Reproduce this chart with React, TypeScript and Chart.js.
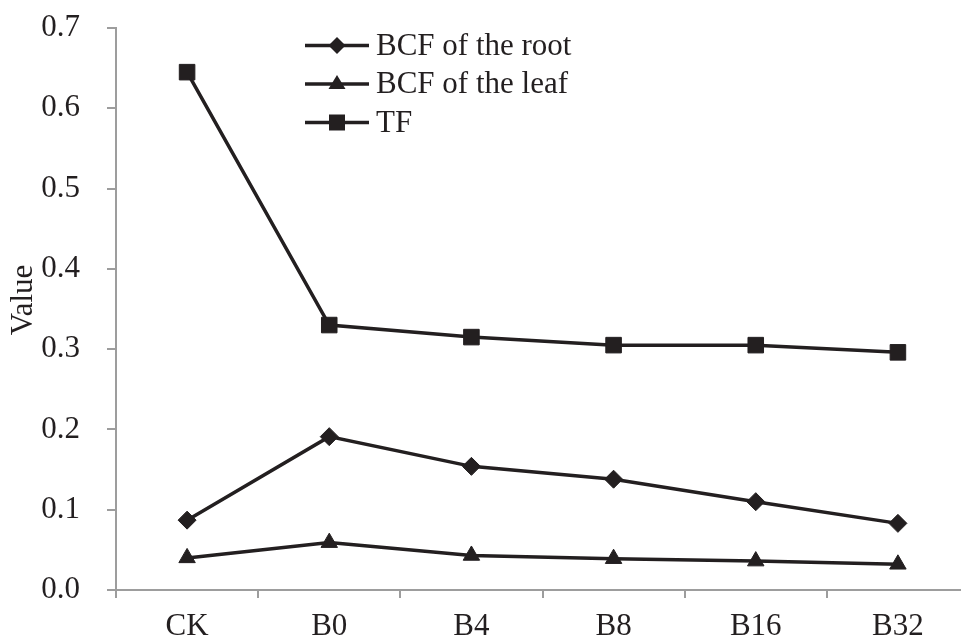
import React, { useEffect, useRef } from "react";
import { Chart, registerables } from "chart.js";

Chart.register(...registerables);

const categories = ["CK", "B0", "B4", "B8", "B16", "B32"];
const bcfRoot = [0.087, 0.191, 0.154, 0.138, 0.110, 0.083];
const bcfLeaf = [0.040, 0.059, 0.043, 0.039, 0.036, 0.032];
const tf = [0.645, 0.330, 0.315, 0.305, 0.305, 0.296];
const seriesNames = ["BCF of the root", "BCF of the leaf", "TF"];
const yAxisTitle = "Value";

const INK = "#231f20";
const AXIS = "#9d9d9d";
const FONT = "'Liberation Serif', 'Times New Roman', serif";

function drawMarker(ctx: CanvasRenderingContext2D, style: string, x: number, y: number) {
  ctx.beginPath();
  if (style === "rect") {
    ctx.rect(x - 8, y - 8, 16, 16);
  } else if (style === "rectRot") {
    ctx.moveTo(x, y - 8.5);
    ctx.lineTo(x + 8.5, y);
    ctx.lineTo(x, y + 8.5);
    ctx.lineTo(x - 8.5, y);
    ctx.closePath();
  } else {
    ctx.moveTo(x, y - 9);
    ctx.lineTo(x + 8.5, y + 5);
    ctx.lineTo(x - 8.5, y + 5);
    ctx.closePath();
  }
  ctx.fill();
}

const legendPlugin = {
  id: "lineLegend",
  afterDraw(chart: any) {
    const ctx = chart.ctx as CanvasRenderingContext2D;
    const rows = [45.5, 84, 122.5];
    ctx.save();
    chart.data.datasets.forEach((ds: any, i: number) => {
      const y = rows[i];
      ctx.strokeStyle = INK;
      ctx.fillStyle = INK;
      ctx.lineWidth = 3.5;
      ctx.beginPath();
      ctx.moveTo(305, y);
      ctx.lineTo(369, y);
      ctx.stroke();
      drawMarker(ctx, ds.pointStyle, 337, y);
      ctx.font = `31px ${FONT}`;
      ctx.textAlign = "left";
      ctx.textBaseline = "middle";
      ctx.fillText(ds.label, 376, y + 1);
    });
    // y-axis title
    ctx.translate(24, 300);
    ctx.rotate(-Math.PI / 2);
    ctx.font = `31px ${FONT}`;
    ctx.textAlign = "center";
    ctx.textBaseline = "middle";
    ctx.fillStyle = INK;
    ctx.fillText(yAxisTitle, 0, 0);
    ctx.restore();
  },
};

export default function App() {
  const ref = useRef<HTMLCanvasElement | null>(null);

  useEffect(() => {
    if (!ref.current) return;
    const mk = (label: string, data: number[], pointStyle: string, radius: number) => ({
      label,
      data,
      pointStyle,
      borderColor: INK,
      backgroundColor: INK,
      pointBackgroundColor: INK,
      pointBorderColor: INK,
      borderWidth: 3.5,
      pointRadius: radius,
      pointBorderWidth: 1,
      tension: 0,
    });
    const chart = new Chart(ref.current, {
      type: "line",
      data: {
        labels: categories,
        datasets: [
          mk(seriesNames[0], bcfRoot, "rectRot", 9),
          mk(seriesNames[1], bcfLeaf, "triangle", 9.5),
          mk(seriesNames[2], tf, "rect", 11),
        ] as any,
      },
      options: {
        animation: false,
        responsive: false,
        maintainAspectRatio: false,
        layout: { padding: { top: 28, right: 0, bottom: 0, left: 0 } },
        plugins: {
          legend: { display: false },
          tooltip: { enabled: false },
        },
        scales: {
          x: {
            type: "category",
            offset: true,
            grid: {
              display: true,
              drawOnChartArea: false,
              drawTicks: true,
              tickLength: 8,
              offset: true,
              color: AXIS,
              lineWidth: 2,
            },
            border: { display: true, color: AXIS, width: 2 },
            ticks: {
              color: INK,
              font: { family: FONT, size: 31 },
              padding: 10,
              maxRotation: 0,
              autoSkip: false,
            },
            afterFit: (scale: any) => {
              scale.height = 50;
              scale.paddingLeft = 0;
              scale.paddingRight = 0;
            },
          },
          y: {
            min: 0,
            max: 0.7,
            grid: {
              display: true,
              drawOnChartArea: false,
              drawTicks: true,
              tickLength: 9,
              color: AXIS,
              lineWidth: 2,
            },
            border: { display: true, color: AXIS, width: 2 },
            ticks: {
              stepSize: 0.1,
              color: INK,
              font: { family: FONT, size: 31 },
              padding: 27,
              callback: (v: any) => Number(v).toFixed(1),
            },
            title: { display: false },
            afterFit: (scale: any) => {
              scale.width = 116;
              scale.paddingTop = 0;
              scale.paddingBottom = 0;
            },
          },
        },
      } as any,
      plugins: [legendPlugin],
    });
    return () => chart.destroy();
  }, []);

  return (
    <div
      style={{
        position: "fixed",
        left: 0,
        top: 0,
        width: 961,
        height: 640,
        overflow: "hidden",
        background: "#fff",
      }}
    >
      <canvas ref={ref} width={981} height={640} style={{ display: "block" }} />
    </div>
  );
}
